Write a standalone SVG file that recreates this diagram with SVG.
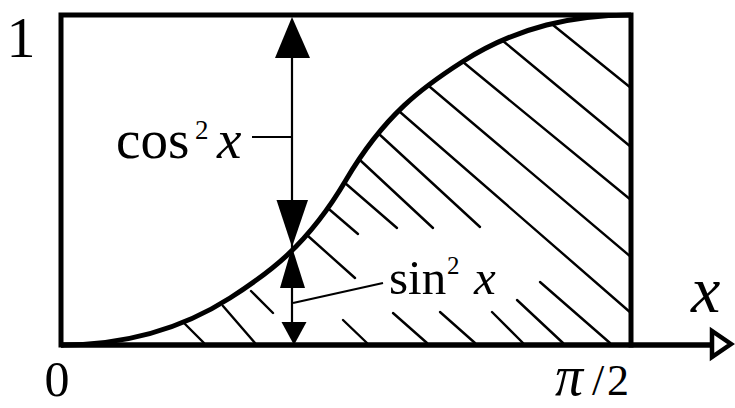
<svg xmlns="http://www.w3.org/2000/svg" width="735" height="408" viewBox="0 0 735 408">
<style>
.frame{fill:none;stroke:#000;stroke-width:5;stroke-linecap:square}
.curve{fill:none;stroke:#000;stroke-width:5}
.hatch{stroke:#000;stroke-width:2.4;stroke-linecap:round}
.thin{stroke:#000;stroke-width:2.2;fill:none}
.head{fill:#000;stroke:none}
.t{font-family:"Liberation Serif","Times New Roman",serif;fill:#000}
.i{font-style:italic}
</style>
<rect width="735" height="408" fill="#fff"/>
<g id="hatching">
<line class="hatch" x1="183" y1="322" x2="204" y2="343"/>
<line class="hatch" x1="223" y1="306" x2="255" y2="343"/>
<line class="hatch" x1="251" y1="291" x2="273" y2="313"/>
<line class="hatch" x1="308" y1="236" x2="355" y2="278"/>
<line class="hatch" x1="330" y1="210" x2="358" y2="234"/>
<line class="hatch" x1="345" y1="183" x2="397" y2="228"/>
<line class="hatch" x1="361" y1="161" x2="433" y2="228"/>
<line class="hatch" x1="379" y1="134" x2="480" y2="227"/>
<line class="hatch" x1="400" y1="112" x2="631" y2="313"/>
<line class="hatch" x1="430" y1="87" x2="631" y2="257"/>
<line class="hatch" x1="463" y1="62" x2="631" y2="200"/>
<line class="hatch" x1="503" y1="41" x2="631" y2="147"/>
<line class="hatch" x1="553" y1="25" x2="631" y2="88"/>
<line class="hatch" x1="343" y1="320" x2="367" y2="343"/>
<line class="hatch" x1="393" y1="313" x2="427" y2="343"/>
<line class="hatch" x1="440" y1="312" x2="475" y2="343"/>
<line class="hatch" x1="492" y1="312" x2="523" y2="343"/>
<line class="hatch" x1="517" y1="300" x2="563" y2="343"/>
<line class="hatch" x1="540" y1="282" x2="610" y2="343"/>
</g>
<g id="frame">
<path class="frame" d="M61,345 L61,15 L631,15 L631,345"/>
</g>
<g id="axis">
<line x1="61" y1="345" x2="712" y2="345" stroke="#000" stroke-width="5.5"/>
<polygon points="712,331 712,357 731,344" fill="#fff" stroke="#000" stroke-width="4.5" stroke-linejoin="miter"/>
</g>
<g id="curve">
<path class="curve" d="M61,345 C117,345 174,333.8 230,298 C268.7,273.2 307.3,245.8 346,180 C384.7,114.2 423.3,86.8 462,62 C518.3,26 574.7,15 631,15"/>
</g>
<g id="connectors">
<line class="thin" x1="292" y1="40" x2="292" y2="330"/>
<polygon class="head" points="292,17 275,58 310,58"/>
<polygon class="head" points="292,247 276.5,200 308,200"/>
<polygon class="head" points="292,247 280,288 305,288"/>
<polygon class="head" points="294,345 281.5,322 306.5,322"/>
<line class="thin" x1="252" y1="137" x2="292" y2="137"/>
<line class="thin" x1="293" y1="303" x2="383" y2="283"/>
</g>
<g id="labels">
<text class="t" x="21" y="57" font-size="58" text-anchor="middle">1</text>
<text class="t" x="57" y="396" font-size="50" text-anchor="middle">0</text>
<text class="t" font-size="44" y="395"><tspan class="i" x="555" font-size="56">π</tspan><tspan x="592">/</tspan><tspan x="607">2</tspan></text>
<text class="t i" x="691" y="312" font-size="66">x</text>
<text class="t" y="158" font-size="55"><tspan x="116">cos</tspan><tspan x="195" y="139" font-size="27">2</tspan><tspan class="i" x="217" y="158">x</tspan></text>
<text class="t" y="294" font-size="49"><tspan x="389">sin</tspan><tspan x="447" y="274" font-size="25">2</tspan><tspan class="i" x="474" y="294">x</tspan></text>
</g>
</svg>
